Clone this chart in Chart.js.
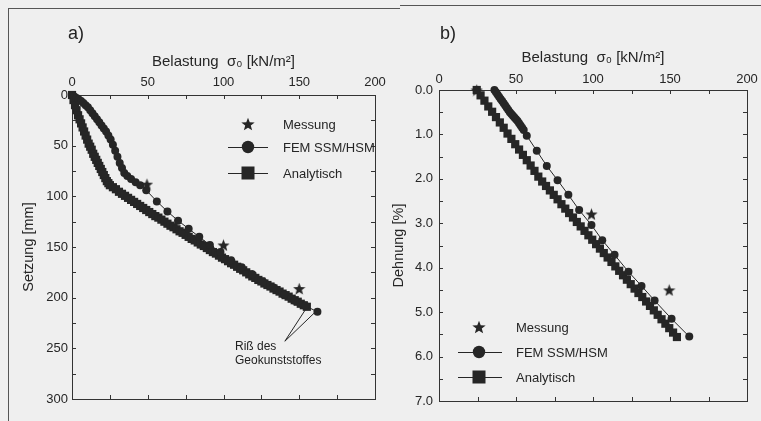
<!DOCTYPE html>
<html><head><meta charset="utf-8">
<script src="https://cdn.jsdelivr.net/npm/chart.js@4/dist/chart.umd.min.js"></script>
<style>
html,body{margin:0;padding:0;background:#efefef;}
#wrap{position:relative;width:761px;height:421px;overflow:hidden;background:#efefef;font-family:'Liberation Sans',Arial,sans-serif;color:#222;}
canvas{position:absolute;top:0;}
#ca{left:0;}
#cb{left:380px;}
.lbl{position:absolute;font-size:18px;line-height:18px;}
.ann{position:absolute;font-size:12px;line-height:14px;}
.fr{position:absolute;background:#555;}
</style></head><body>
<div id="wrap">
<canvas id="ca" width="400" height="421"></canvas>
<canvas id="cb" width="381" height="421"></canvas>
<div class="lbl" style="left:68px;top:24px;">a)</div>
<div class="lbl" style="left:440px;top:24px;">b)</div>
<div class="ann" style="left:235px;top:339px;">Riß des<br>Geokunststoffes</div>
<div class="fr" style="left:8px;top:8px;width:1px;height:413px;"></div>
<div class="fr" style="left:8px;top:8px;width:392px;height:1px;"></div>
<div class="fr" style="left:400px;top:5px;width:361px;height:1px;"></div>
</div>
<script>
// ---------- Panel a: settlement ----------
const femA_load = [0,1.5,3,4.5,6,7.5,9,10.5,12,13.5,15,16.5,18,19.5,21,22.5,24,25.5,27,28.5,30,31.5,33,34.5,36.5,39,42,45,49,56,63,70,77,84,91,98,105,112,119,126,133,140,147,154,162];
const femA_settle = [0,1.5,3,4.5,6,8,10,12,15,18,21,24,27,30,33,36,40,44,49,55,61,67,72,77,80,83,86,89,94,105,115,124,132,140,148,155,163,170,177,184,190,197,203,208,214];
const anaA_load = [0,1,2,3,4,5,6,7,8,9,10,11,12,13,14,15,16,17,18,19,20,21,22,23,24,25,27,29,31,33,35,37,39,41,43,45,47,49,51,53,55,57,59,61,63,65,67,69,71,73,75,77,79,81,83,85,87,89,91,93,95,97,99,101,103,105,107,109,111,113,115,117,119,121,123,125,127,129,131,133,135,137,139,141,143,145,147,149,151,153,155];
const anaA_settle = [0,5,10,15,20,24,28,32,36,40,44,48,51,54,58,61,64,67,70,73,76,79,82,85,87,89,91,93,95.5,97.5,99.5,101.5,103.5,105.5,107.5,109.5,111.5,113.5,115.5,117.5,119.5,121,123,125,127,129,130.5,132.5,134.5,136,138,140,142,143.5,145.5,147.5,149,151,153,155,156.5,158.5,160.5,162,164,166,167.5,169.5,171.5,173,175,177,179,180.5,182.5,184,186,187.5,189,191,192.5,194,196,197.5,199,201,202.5,204,206,207.5,209];
const mesA_load = [49.5,100,150];
const mesA_settle = [88,148,191];
const xTicksA = [0,50,100,150,200];
const yTicksA = [0,50,100,150,200,250,300];
// crack annotation (apex and the two curve ends it points to), in data units
const crackA = {apex:[140.5,243], ends:[[154,212],[160,215]]};

// ---------- Panel b: strain ----------
const femB_load = [36,37,38,39,40,41,42,43,44,45,46,47,48,49,50,51,52,53,54,55,57,63.5,70,77,84,91,99,106,114,123,131.5,140,151,162.5];
const femB_strain = [0,0.05,0.1,0.15,0.2,0.25,0.3,0.35,0.4,0.45,0.5,0.54,0.58,0.62,0.66,0.7,0.75,0.8,0.85,0.9,1.03,1.37,1.71,2.03,2.36,2.7,3.04,3.38,3.71,4.09,4.41,4.74,5.15,5.55];
const anaB_load = [24.5,27,29.5,32,34.5,37,39.5,42,44.5,47,49.5,52,54.5,57,59.5,62,64.5,67,69.5,72,74.5,77,79.5,82,84.5,87,89.5,92,94.5,97,99.5,102,104.5,107,109.5,112,114.5,117,119.5,122,124.5,127,129.5,132,134.5,137,139.5,142,144.5,147,149.5,152,154.5];
const anaB_strain = [0,0.12,0.24,0.37,0.49,0.61,0.73,0.85,0.98,1.10,1.22,1.34,1.46,1.58,1.70,1.82,1.95,2.06,2.16,2.26,2.36,2.46,2.57,2.67,2.77,2.87,2.97,3.07,3.17,3.27,3.37,3.47,3.57,3.67,3.77,3.87,3.97,4.07,4.17,4.27,4.37,4.47,4.57,4.66,4.76,4.86,4.96,5.06,5.16,5.26,5.36,5.46,5.56];
const mesB_load = [24.5,99,149.5];
const mesB_strain = [0,2.79,4.5];
const xTicksB = [0,50,100,150,200];
const yTicksB = [0,1,2,3,4,5,6,7];

const legendNames = ['Messung','FEM SSM/HSM','Analytisch'];
const FONT = "'Liberation Sans', Arial, sans-serif";
const INK = '#262626';

function pts(xs, ys){ return xs.map((x,i)=>({x:x, y:ys[i]})); }

function makeStar(size){
  const c = document.createElement('canvas');
  c.width = size; c.height = size;
  const g = c.getContext('2d');
  const cx = size/2, cy = size/2 + size*0.05, R = size/2, r = R*0.42;
  g.beginPath();
  for(let i=0;i<10;i++){
    const ang = -Math.PI/2 + i*Math.PI/5;
    const rad = i%2===0 ? R : r;
    g.lineTo(cx + rad*Math.cos(ang), cy + rad*Math.sin(ang));
  }
  g.closePath(); g.fillStyle = INK; g.fill();
  return c;
}
const starData = makeStar(13);
const starLegend = makeStar(14);

const framePlugin = {
  id:'frame',
  beforeDatasetsDraw(chart){
    const {ctx, chartArea:a} = chart;
    const x = chart.scales.x, y = chart.scales.y;
    ctx.save();
    ctx.strokeStyle = '#333'; ctx.lineWidth = 1;
    ctx.strokeRect(Math.round(a.left)+0.5, Math.round(a.top)+0.5, Math.round(a.right-a.left), Math.round(a.bottom-a.top));
    ctx.beginPath();
    x.ticks.forEach(t=>{
      const p = Math.round(x.getPixelForValue(t.value))+0.5;
      ctx.moveTo(p, a.top); ctx.lineTo(p, a.top+4);
      ctx.moveTo(p, a.bottom); ctx.lineTo(p, a.bottom-4);
    });
    y.ticks.forEach(t=>{
      const p = Math.round(y.getPixelForValue(t.value))+0.5;
      ctx.moveTo(a.left, p); ctx.lineTo(a.left+4, p);
      ctx.moveTo(a.right, p); ctx.lineTo(a.right-4, p);
    });
    ctx.stroke();
    ctx.restore();
  }
};

function legendPlugin(pos){
  return {
    id:'customLegend',
    afterDraw(chart){
      const ctx = chart.ctx;
      ctx.save();
      ctx.font = '13px ' + FONT;
      ctx.fillStyle = INK; ctx.textBaseline = 'middle'; ctx.textAlign = 'left';
      ctx.drawImage(starLegend, pos.mx - 7, pos.y[0] - 7);
      ctx.strokeStyle = INK; ctx.lineWidth = 1;
      [1,2].forEach(i=>{
        ctx.beginPath(); ctx.moveTo(pos.l0, pos.y[i]+0.5); ctx.lineTo(pos.l1, pos.y[i]+0.5); ctx.stroke();
      });
      ctx.beginPath(); ctx.arc(pos.mx, pos.y[1], 6.2, 0, Math.PI*2); ctx.fill();
      ctx.fillRect(pos.mx-6.5, pos.y[2]-6.5, 13, 13);
      legendNames.forEach((n,i)=> ctx.fillText(n, pos.tx, pos.y[i]+1));
      ctx.restore();
    }
  };
}

const crackPlugin = {
  id:'crack',
  afterDatasetsDraw(chart){
    const {ctx} = chart; const x = chart.scales.x, y = chart.scales.y;
    ctx.save(); ctx.strokeStyle = INK; ctx.lineWidth = 1;
    const ax = x.getPixelForValue(crackA.apex[0]), ay = y.getPixelForValue(crackA.apex[1]);
    ctx.beginPath();
    crackA.ends.forEach(e=>{ ctx.moveTo(ax, ay); ctx.lineTo(x.getPixelForValue(e[0]), y.getPixelForValue(e[1])); });
    ctx.stroke(); ctx.restore();
  }
};

function series(label, data, style, radius, order){
  return {
    label, data, showLine: style !== 'star', borderColor: INK, borderWidth: 1,
    pointStyle: style === 'star' ? starData : style,
    pointRadius: radius, pointBackgroundColor: INK, pointBorderColor: INK, pointBorderWidth: 0,
    clip: false, order
  };
}

function makeOptions(cfg){
  return {
    responsive:false, animation:false, events:[],
    layout:{padding:cfg.pad},
    plugins:{legend:{display:false}, tooltip:{enabled:false}},
    scales:{
      x:{type:'linear', position:'top', min:0, max:200,
        afterBuildTicks(s){ s.ticks = []; for(let v=0; v<=200; v+=25) s.ticks.push({value:v}); },
        ticks:{autoSkip:false, maxRotation:0, padding:cfg.xPad, color:INK, font:{family:FONT,size:13},
          callback:v => cfg.xTicks.includes(v) ? String(v) : ''},
        grid:{display:false, drawTicks:false}, border:{display:false},
        title:{display:true, text:'Belastung  σ₀ [kN/m²]', color:INK, font:{family:FONT,size:15}, padding:{top:cfg.xTitleTop,bottom:0}},
        afterFit(s){ s.height = cfg.xH; }
      },
      y:{type:'linear', position:'left', reverse:true, min:cfg.yMin, max:cfg.yMax,
        afterBuildTicks(s){ s.ticks = []; for(let v=cfg.yMin; v<=cfg.yMax+1e-9; v+=cfg.yStep) s.ticks.push({value:Math.round(v*100)/100}); },
        ticks:{autoSkip:false, padding:cfg.yPad, color:INK, font:{family:FONT,size:13},
          callback:v => cfg.yTicks.includes(v) ? cfg.yFmt(v) : ''},
        grid:{display:false, drawTicks:false}, border:{display:false},
        title:{display:true, text:cfg.yTitle, color:INK, font:{family:FONT,size:14.5}, padding:{top:cfg.yTitleTop,bottom:0}},
        afterFit(s){ s.width = cfg.yW; }
      }
    }
  };
}

new Chart(document.getElementById('ca'), {
  type:'scatter',
  data:{datasets:[
    series('Messung', pts(mesA_load, mesA_settle), 'star', 6.5, 0),
    series('FEM SSM/HSM', pts(femA_load, femA_settle), 'circle', 4, 1),
    series('Analytisch', pts(anaA_load, anaA_settle), 'rect', 5.8, 2)
  ]},
  options: makeOptions({pad:{left:0,right:25,top:0,bottom:22}, xH:95, yW:72, xPad:5, yPad:4, xTitleTop:53, yTitleTop:20,
    yMin:0, yMax:300, yStep:25, xTicks:xTicksA, yTicks:yTicksA, yFmt:v=>String(v), yTitle:'Setzung [mm]'}),
  plugins:[framePlugin, crackPlugin, legendPlugin({mx:248, l0:228, l1:268, tx:283, y:[124,147,173]})]
});

new Chart(document.getElementById('cb'), {
  type:'scatter',
  data:{datasets:[
    series('Messung', pts(mesB_load, mesB_strain), 'star', 6.5, 0),
    series('FEM SSM/HSM', pts(femB_load, femB_strain), 'circle', 4, 1),
    series('Analytisch', pts(anaB_load, anaB_strain), 'rect', 5.8, 2)
  ]},
  options: makeOptions({pad:{left:0,right:14,top:0,bottom:20}, xH:90, yW:59, xPad:3, yPad:6, xTitleTop:49, yTitleTop:10,
    yMin:0, yMax:7, yStep:0.5, xTicks:xTicksB, yTicks:yTicksB, yFmt:v=>v.toFixed(1), yTitle:'Dehnung [%]'}),
  plugins:[framePlugin, legendPlugin({mx:99, l0:78, l1:122, tx:136, y:[327,352,377]})]
});
</script>
</body></html>
